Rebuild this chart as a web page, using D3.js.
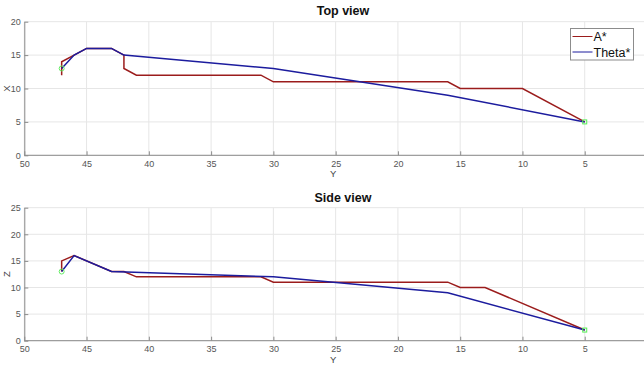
<!DOCTYPE html>
<html>
<head>
<meta charset="utf-8">
<script src="https://cdn.jsdelivr.net/npm/d3@7"></script>
<style>
  body { margin: 0; background: #fff; }
  svg { display: block; font-family: "Liberation Sans", Arial, sans-serif; }
</style>
</head>
<body>
<svg id="chart" width="644" height="365"></svg>
<script>
// Path coordinates: Y (horizontal) against X (top view) and Z (side view)
const topAstarY   = [47, 47, 46, 45, 43, 42, 42, 41, 31, 30, 16, 15, 10, 5];
const topAstarX   = [12, 14, 15, 16, 16, 15, 13, 12, 12, 11, 11, 10, 10, 5];
const topThetaY   = [47, 46, 45, 43, 42, 30, 16, 5];
const topThetaX   = [13, 15, 16, 16, 15, 13, 9, 5];

const sideAstarY  = [47, 47, 46, 43, 42, 41, 31, 30, 16, 15, 13, 5];
const sideAstarZ  = [13, 15, 16, 13, 13, 12, 12, 11, 11, 10, 10, 2];
const sideThetaY  = [47, 46, 43, 30, 16, 5];
const sideThetaZ  = [13, 16, 13, 12, 9, 2];

const startY = 47, startX = 13, startZ = 13;
const goalY = 5, goalX = 5, goalZ = 2;

const yTicks = [50, 45, 40, 35, 30, 25, 20, 15, 10, 5];
const xTicks = [0, 5, 10, 15, 20];
const zTicks = [0, 5, 10, 15, 20, 25];

const seriesNames = ["A*", "Theta*"];
const colors = ["#9b1c1c", "#1c1c9e"];

const svg = d3.select("#chart");
svg.append("rect").attr("width", 644).attr("height", 365).attr("fill", "#fff");

function panel(opts) {
  const x = d3.scaleLinear().domain([50, 0]).range([24.3, 647]);
  const y = d3.scaleLinear().domain([0, opts.vmax]).range([opts.bottom, opts.top]);
  const g = svg.append("g");

  // grid
  g.append("g").selectAll("line").data(yTicks).join("line")
    .attr("x1", d => x(d)).attr("x2", d => x(d))
    .attr("y1", y(0)).attr("y2", y(opts.vmax))
    .attr("stroke", "#e6e6e6").attr("stroke-width", 1);
  g.append("g").selectAll("line").data(opts.vTicks).join("line")
    .attr("x1", x(50)).attr("x2", 644)
    .attr("y1", d => y(d)).attr("y2", d => y(d))
    .attr("stroke", "#e6e6e6").attr("stroke-width", 1);

  // axes
  const ax = g.append("g").attr("transform", `translate(0,${y(0)})`)
    .call(d3.axisBottom(x).tickValues(yTicks).tickSizeInner(-4).tickSizeOuter(0).tickPadding(5));
  const ay = g.append("g").attr("transform", `translate(${x(50)},0)`)
    .call(d3.axisLeft(y).tickValues(opts.vTicks).tickSizeInner(-4).tickSizeOuter(0).tickPadding(3.5));
  [ax, ay].forEach(a => {
    a.select(".domain").attr("stroke", "#8c8c8c").attr("stroke-width", 1);
    a.selectAll(".tick line").attr("stroke", "#8c8c8c");
    a.selectAll(".tick text").attr("fill", "#555").attr("font-size", 9)
      .attr("font-family", "'Liberation Sans', Arial, sans-serif");
  });
  // the horizontal axis runs on past the last labelled tick
  ax.select(".domain").attr("d", `M${x(50)},0H644`);

  // labels
  g.append("text").attr("x", 343).attr("y", opts.title)
    .attr("text-anchor", "middle").attr("font-weight", "bold").attr("font-size", 12.5)
    .attr("fill", "#111").text(opts.titleText);
  g.append("text").attr("x", x(25.2)).attr("y", y(0) + 22)
    .attr("text-anchor", "middle").attr("font-size", 9.5).attr("fill", "#444").text("Y");
  g.append("text")
    .attr("transform", `translate(9.5,${(y(0) + y(opts.vmax)) / 2}) rotate(-90)`)
    .attr("text-anchor", "middle").attr("font-size", 9.5).attr("fill", "#444").text(opts.vLabel);

  // paths
  const line = d3.line().x(d => x(d[0])).y(d => y(d[1]));
  opts.series.forEach((s, i) => {
    g.append("path").datum(d3.zip(s[0], s[1]))
      .attr("d", line).attr("fill", "none")
      .attr("stroke", colors[i]).attr("stroke-width", 1.5)
      .attr("stroke-linejoin", "miter");
  });

  // start and goal markers
  g.append("circle").attr("cx", x(startY)).attr("cy", y(opts.start))
    .attr("r", 2.5).attr("fill", "none").attr("stroke", "#66ee66").attr("stroke-width", 1);
  g.append("rect").attr("x", x(goalY) - 2).attr("y", y(opts.goal) - 2)
    .attr("width", 4).attr("height", 4).attr("fill", "none")
    .attr("stroke", "#55ee55").attr("stroke-width", 1);
}

panel({
  vmax: 20, top: 21.7, bottom: 155.3, vTicks: xTicks, title: 15, titleText: "Top view",
  vLabel: "X", start: startX, goal: goalX,
  series: [[topAstarY, topAstarX], [topThetaY, topThetaX]]
});
panel({
  vmax: 25, top: 207.7, bottom: 340.7, vTicks: zTicks, title: 201.5, titleText: "Side view",
  vLabel: "Z", start: startZ, goal: goalZ,
  series: [[sideAstarY, sideAstarZ], [sideThetaY, sideThetaZ]]
});

// legend
const lg = svg.append("g").attr("transform", "translate(570.5,28.5)");
lg.append("rect").attr("width", 63).attr("height", 31.5)
  .attr("fill", "#fff").attr("stroke", "#8c8c8c").attr("stroke-width", 1);
seriesNames.forEach((name, i) => {
  const cy = 8 + i * 15.5;
  lg.append("line").attr("x1", 2).attr("x2", 22).attr("y1", cy).attr("y2", cy)
    .attr("stroke", colors[i]).attr("stroke-width", 1);
  lg.append("text").attr("x", 23).attr("y", cy + 4.5).attr("font-size", 12.5)
    .attr("fill", "#111").text(name);
});
</script>
</body>
</html>
